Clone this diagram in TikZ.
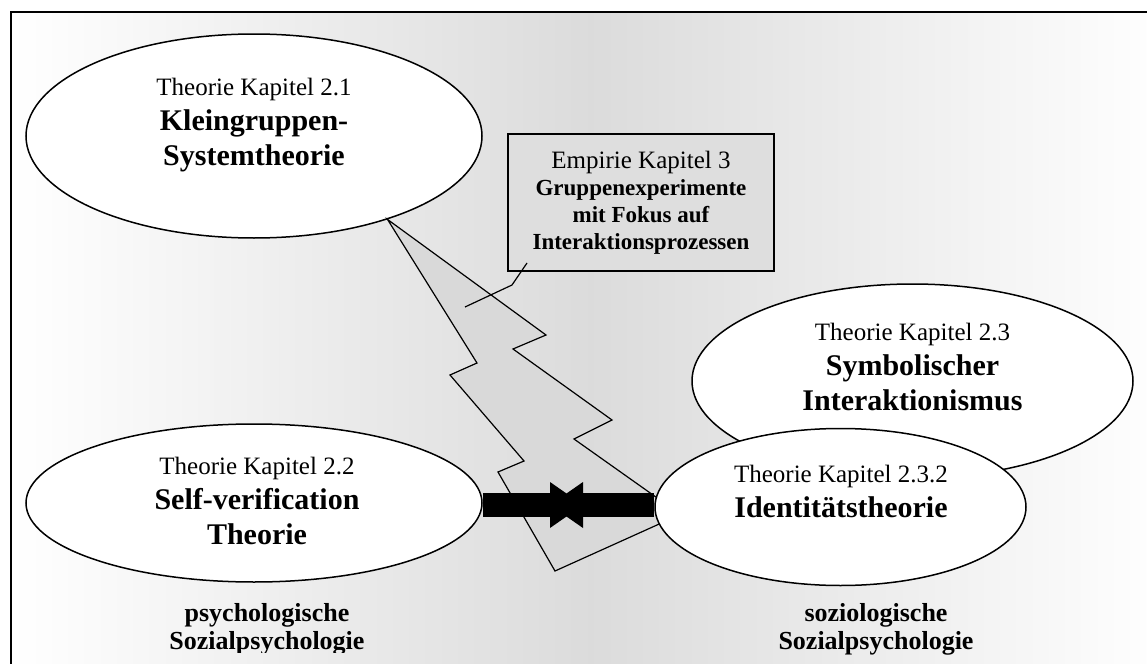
\documentclass[tikz,border=0pt]{standalone}
\usepackage{fontspec}
\setmainfont{Liberation Serif}
\usetikzlibrary{arrows.meta,shapes.geometric}

\newcommand{\chapfont}{\fontsize{12.5}{17.5}\selectfont\mdseries}

\begin{document}
\begin{tikzpicture}[x=0.5pt, y=-0.5pt,
    theory/.style={ellipse, draw, line width=0.75pt, fill=white, inner sep=0pt},
    title/.style={align=center, font=\fontsize{15}{17.5}\selectfont\bfseries},
    area/.style={align=center, font=\fontsize{13}{14}\selectfont\bfseries},
    bar/.style={line width=12pt, -{Triangle[length=16.5pt, width=23pt, line width=0pt]}}]

    % Background with frame
    \useasboundingbox (0,0) rectangle (1147,664);
    \clip (0,0) rectangle (1147,664);
    \shade[left color=white, right color=white, middle color=black!14] (11,12) rectangle (1170,690);
    \draw[line width=1pt] (11,12) rectangle (1170,690);

    % Draw the ellipses on the left
    \node[theory, minimum width=228pt, minimum height=102pt] (kgs) at (254,136) {};
    \node[theory, minimum width=228pt, minimum height=79pt] (svt) at (254,503) {};

    % Lightning between them
    \draw[line width=0.6pt, fill=black!15] (kgs.-32) -- (546,335) -- (513,349) -- (612,420) -- (574,439)
        -- (670,507) -- (670,519) -- (657,525) -- (555,571) -- (498,472) -- (524,461) -- (450,375) -- (477,363) -- cycle;

    % Draw the ellipses on the right
    \node[theory, minimum width=220.5pt, minimum height=97pt] (sym) at (912.5,381) {};
    \node[theory, minimum width=185.5pt, minimum height=78.5pt] (idt) at (840.5,507) {};

    % Empirie box with its callout
    \node[draw, line width=1pt, fill=black!13, minimum width=133pt, minimum height=68.5pt, align=center,
        font=\fontsize{11.5}{13.5}\selectfont\bfseries] (emp) at (641,202.5)
        {{\chapfont Empirie Kapitel 3}\\Gruppenexperimente\\mit Fokus auf\\Interaktionsprozessen};
    \coordinate (hit) at (465,307);
    \draw[line width=0.6pt] ([shift={(20,-9)}]emp.south west) -- (512,285) -- (hit);

    % Arrows meeting in the middle
    \coordinate (meet) at (567,505);
    \draw[bar] (svt.east |- meet) -- ([xshift=8pt]meet);
    \draw[bar] (idt.west |- meet) -- ([xshift=-8.5pt]meet);

    % Texts in the ellipses
    \node[title] (kgs-txt) at (254,125.5) {{\chapfont Theorie Kapitel 2.1}\\Kleingruppen-\\Systemtheorie};
    \node[title] (svt-txt) at (257,501) {{\chapfont Theorie Kapitel 2.2}\\Self-verification\\Theorie};
    \node[title] (sym-txt) at (912.5,367) {{\chapfont Theorie Kapitel 2.3}\\Symbolischer\\Interaktionismus};
    \node[title] (idt-txt) at (841,491) {{\chapfont Theorie Kapitel 2.3.2}\\Identitätstheorie};

    % Fields below
    \begin{scope}
        \clip (0,0) rectangle (600,652);
        \node[area] (psy) at (267,629) {psychologische\\Sozialpsychologie};
    \end{scope}
    \node[area] (soz) at (876,629) {soziologische\\Sozialpsychologie};

\end{tikzpicture}
\end{document}
